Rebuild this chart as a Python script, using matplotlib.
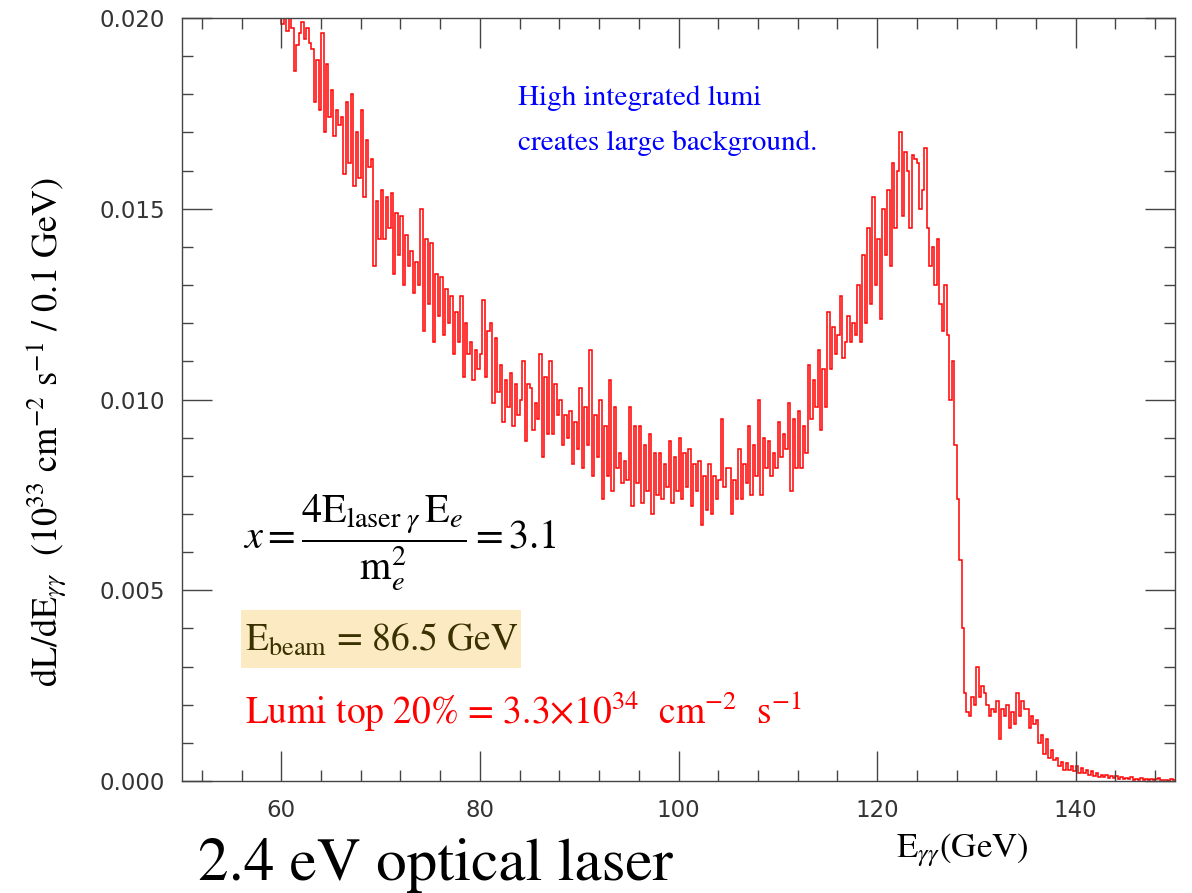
import numpy as np
import matplotlib
matplotlib.use("Agg")
import matplotlib.pyplot as plt
from matplotlib.patches import Rectangle
from matplotlib.ticker import MultipleLocator, FormatStrFormatter

plt.rcParams['mathtext.fontset'] = 'stix'
plt.rcParams['font.family'] = ['STIXGeneral', 'DejaVu Sans']

# histogram: first bin edge, bin width (GeV), contents in units of 1e-5
bin_start = 58.0
bin_width = 0.25
counts = [
    2300, 2260, 2210, 2180,   # 58
    2120, 2060, 2030, 2005,   # 59
    1985, 2020, 1965, 2010,   # 60
    1975, 1860, 1930, 1960,   # 61
    1990, 1945, 1975, 1935,   # 62
    1920, 1780, 1890, 1760,   # 63
    1960, 1700, 1880, 1740,   # 64
    1810, 1690, 1760, 1720,   # 65
    1740, 1590, 1780, 1620,   # 66
    1800, 1560, 1700, 1580,   # 67
    1760, 1530, 1680, 1610,   # 68
    1630, 1350, 1520, 1420,   # 69
    1550, 1420, 1530, 1450,   # 70
    1540, 1330, 1490, 1380,   # 71
    1480, 1300, 1430, 1350,   # 72
    1390, 1280, 1360, 1300,   # 73
    1500, 1180, 1420, 1250,   # 74
    1410, 1150, 1330, 1220,   # 75
    1320, 1170, 1290, 1200,   # 76
    1270, 1120, 1230, 1150,   # 77
    1270, 1060, 1200, 1120,   # 78
    1150, 1050, 1130, 1080,   # 79
    1120, 1260, 1060, 1180,   # 80
    1200, 990, 1160, 1020,    # 81
    1090, 940, 1050, 980,     # 82
    1070, 930, 1040, 960,     # 83
    1000, 1100, 890, 1040,    # 84
    1030, 920, 990, 950,      # 85
    1120, 850, 1060, 910,     # 86
    1100, 910, 1040, 960,     # 87
    1000, 880, 960, 900,      # 88
    970, 830, 940, 870,       # 89
    1030, 820, 980, 880,      # 90
    1130, 800, 960, 850,      # 91
    1000, 740, 930, 800,      # 92
    1050, 760, 980, 820,      # 93
    860, 780, 840, 790,       # 94
    980, 720, 930, 780,       # 95
    930, 730, 880, 760,       # 96
    910, 700, 860, 750,       # 97
    860, 740, 830, 770,       # 98
    890, 730, 850, 760,       # 99
    900, 740, 860, 770,       # 100
    870, 720, 830, 760,       # 101
    840, 670, 800, 710,       # 102
    830, 700, 800, 740,       # 103
    790, 950, 770, 820,       # 104
    820, 700, 790, 740,       # 105
    870, 740, 830, 780,       # 106
    930, 750, 880, 800,       # 107
    1000, 750, 900, 820,      # 108
    890, 800, 860, 820,       # 109
    940, 850, 910, 870,       # 110
    990, 760, 950, 820,       # 111
    970, 820, 930, 860,       # 112
    1090, 950, 1050, 980,     # 113
    1130, 920, 1080, 980,     # 114
    1230, 1080, 1190, 1120,   # 115
    1170, 1270, 1110, 1150,   # 116
    1220, 1150, 1200, 1170,   # 117
    1300, 1150, 1380, 1200,   # 118
    1450, 1250, 1530, 1300,   # 119
    1420, 1210, 1500, 1380,   # 120
    1550, 1350, 1620, 1450,   # 121
    1600, 1700, 1480, 1650,   # 122
    1600, 1450, 1640, 1630,   # 123
    1620, 1500, 1550, 1660,   # 124
    1450, 1350, 1400, 1300,   # 125
    1420, 1250, 1180, 1300,   # 126
    1170, 1000, 1100, 880,    # 127
    740, 580, 400, 230,       # 128
    180, 170, 220, 200,       # 129
    300, 220, 250, 230,       # 130
    200, 170, 190, 180,       # 131
    210, 110, 190, 170,       # 132
    200, 140, 180, 150,       # 133
    230, 170, 210, 190,       # 134
    190, 140, 170, 150,       # 135
    160, 100, 120, 70,        # 136
    110, 60, 80, 55,          # 137
    60, 40, 50, 30,           # 138
    47, 28, 40, 25,           # 139
    40, 22, 35, 20,           # 140
    30, 15, 25, 12,           # 141
    20, 10, 15, 10,           # 142
    15, 8, 12, 8,             # 143
    12, 5, 10, 6,             # 144
    8, 4, 10, 3,              # 145
    6, 3, 8, 2,               # 146
    5, 2, 6, 2,               # 147
    4, 8, 2, 3,               # 148
    3, 1, 5, 2,               # 149
]

vals = np.array(counts) * 1e-5
edges = bin_start + bin_width * np.arange(len(vals) + 1)

W, H = 1192, 893
fig = plt.figure(figsize=(W / 100, H / 100), dpi=100)
ax = fig.add_axes([182 / W, 1 - 781 / H, (1175 - 182) / W, (781 - 18) / H])

ax.stairs(vals, edges, baseline=None, color='red', lw=1.1)

ax.set_xlim(50, 150)
ax.set_ylim(0, 0.020)
ax.xaxis.set_major_locator(MultipleLocator(20))
ax.xaxis.set_minor_locator(MultipleLocator(4))
ax.yaxis.set_major_locator(MultipleLocator(0.005))
ax.yaxis.set_minor_locator(MultipleLocator(0.001))
ax.yaxis.set_major_formatter(FormatStrFormatter('%.3f'))

axcol = '#444444'
ax.tick_params(which='both', direction='in', top=True, right=True,
               color=axcol, width=1.0, labelcolor='#333333')
ax.tick_params(which='major', length=21.5)
ax.tick_params(which='minor', length=8)
ax.tick_params(axis='x', pad=13)
ax.tick_params(axis='y', pad=12)
for lab in ax.get_xticklabels() + ax.get_yticklabels():
    lab.set_family('DejaVu Sans')
    lab.set_fontsize(16.5)
for s in ax.spines.values():
    s.set_color(axcol)
    s.set_linewidth(1.0)

def fx(px):
    return px / W

def fy(py):
    return 1 - py / H

# axis titles
fig.text(fx(47), fy(432),
         r'dL/dE$_{\gamma\gamma}$  (10$^{33}$ cm$^{-2}$ s$^{-1}$ / 0.1 GeV)',
         rotation=90, ha='center', va='center', fontsize=26)
fig.text(fx(962), fy(850), r'E$_{\gamma\gamma}$(GeV)',
         ha='center', va='center', fontsize=25)

fig.text(fx(198), fy(880), '2.4 eV optical laser',
         ha='left', va='baseline', fontsize=44)

# annotations
fig.text(fx(518), fy(98), 'High integrated lumi', color='#0000ff',
         ha='left', va='center', fontsize=21)
fig.text(fx(518), fy(143), 'creates large background.', color='#0000ff',
         ha='left', va='center', fontsize=21)

fig.text(fx(243), fy(543),
         r'$x = \dfrac{4\mathrm{E}_{\mathrm{laser}\ \gamma}\,\mathrm{E}_{e}}{\mathrm{m}_{e}^{2}} = 3.1$',
         ha='left', va='center', fontsize=29)

fig.patches.append(Rectangle((fx(241), fy(668)), (521 - 241) / W, (668 - 610) / H,
                             transform=fig.transFigure, facecolor='#fcebc2',
                             edgecolor='none', zorder=2))
fig.text(fx(245), fy(640), r'E$_{\mathrm{beam}}$ = 86.5 GeV', color='#3a3100',
         ha='left', va='center', fontsize=27, zorder=3)

fig.text(fx(245), fy(712),
         r'Lumi top 20% = 3.3$\times$10$^{34}$  cm$^{-2}$  s$^{-1}$',
         color='red', ha='left', va='center', fontsize=27)

fig.savefig('out.png', dpi=100)
